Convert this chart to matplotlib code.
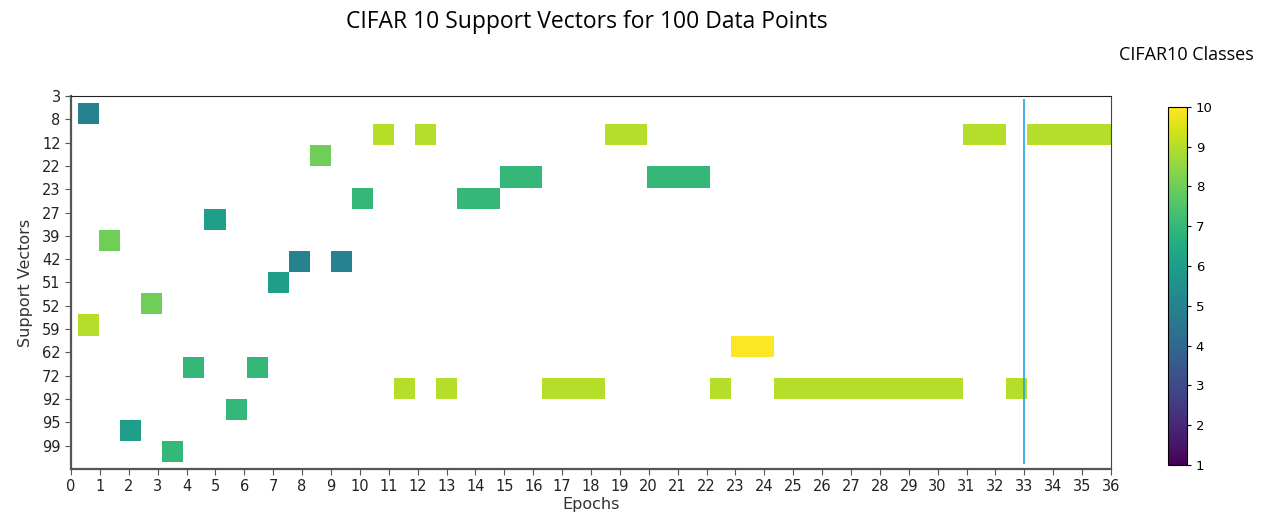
import numpy as np
import matplotlib

matplotlib.use("Agg")
import matplotlib.pyplot as plt

# y tick labels (support vector ids) shown at positions 0..15
sv_labels = ["3", "8", "12", "22", "23", "27", "39", "42", "51", "52",
             "59", "62", "72", "92", "95", "99"]
epoch_ticks = list(range(0, 37))

# heatmap grid: 17 rows x 49 columns, cells filled in runs
N_ROWS, N_COLS = 17, 49
run_row = [0, 10, 6, 15, 9, 16, 12, 5, 14, 12, 8, 7, 2, 7, 4, 1, 13, 1, 13,
           4, 3, 13, 1, 3, 13, 11, 13, 1, 13, 1]
run_col = [0, 0, 1, 2, 3, 4, 5, 6, 7, 8, 9, 10, 11, 12, 13, 14, 15, 16, 17,
           18, 20, 22, 25, 27, 30, 31, 33, 42, 44, 45]
run_len = [1, 1, 1, 1, 1, 1, 1, 1, 1, 1, 1, 1, 1, 1, 1, 1, 1, 1, 1,
           2, 2, 3, 2, 3, 1, 2, 9, 2, 1, 4]
run_class = [5, 9, 8, 6, 8, 7, 7, 6, 7, 7, 6, 5, 8, 5, 7, 9, 9, 9, 9,
             7, 7, 9, 9, 7, 9, 10, 9, 9, 9, 9]
cutoff_epoch = 33

grid = np.full((N_ROWS, N_COLS), np.nan)
for r, c, n, k in zip(run_row, run_col, run_len, run_class):
    grid[r, c:c + n] = k
grid = np.ma.masked_invalid(grid)

fig = plt.figure(figsize=(12.61, 5.13), dpi=100)
ax = fig.add_axes([0.0563, 0.0858, 0.8247, 0.7272])

# the image grid does not line up with the tick scale, so give it its own extent
x_edges = np.linspace(0.24, 36.0, N_COLS + 1)
y_edges = np.linspace(0.30, 15.72, N_ROWS + 1)
mesh = ax.pcolormesh(x_edges, y_edges, grid, cmap="viridis", vmin=1, vmax=10)

ax.vlines(cutoff_epoch, 0.13, 15.8, color="#22a4e0", lw=1.2)

ax.set_xlim(0, 36)
ax.set_ylim(16, 0)
ax.set_xticks(epoch_ticks)
ax.set_yticks(range(len(sv_labels)))
ax.set_yticklabels(sv_labels)
ax.tick_params(labelsize=10.5, color="#555555", length=4, labelcolor="#222222")

for side in ["left", "bottom"]:
    ax.spines[side].set_color("#555555")
    ax.spines[side].set_linewidth(1.6)
ax.spines["top"].set_color("#222222")
ax.spines["right"].set_color("#444444")

ax.set_xlabel("Epochs", fontsize=11.5, color="#333333", labelpad=2)
ax.set_ylabel("Support Vectors", fontsize=11.5, color="#333333", labelpad=6)

cax = fig.add_axes([0.926, 0.0936, 0.0151, 0.698])
cb = fig.colorbar(mesh, cax=cax, ticks=range(1, 11))
cb.ax.tick_params(labelsize=9.5, length=3)
cb.outline.set_linewidth(0.8)

fig.text(0.465, 0.957, "CIFAR 10 Support Vectors for 100 Data Points",
         ha="center", va="center", fontsize=16.5, family="Open Sans")
fig.text(0.941, 0.893, "CIFAR10 Classes", ha="center", va="center",
         fontsize=13, family="Open Sans")

fig.savefig("out.png", dpi=100, facecolor="white")
